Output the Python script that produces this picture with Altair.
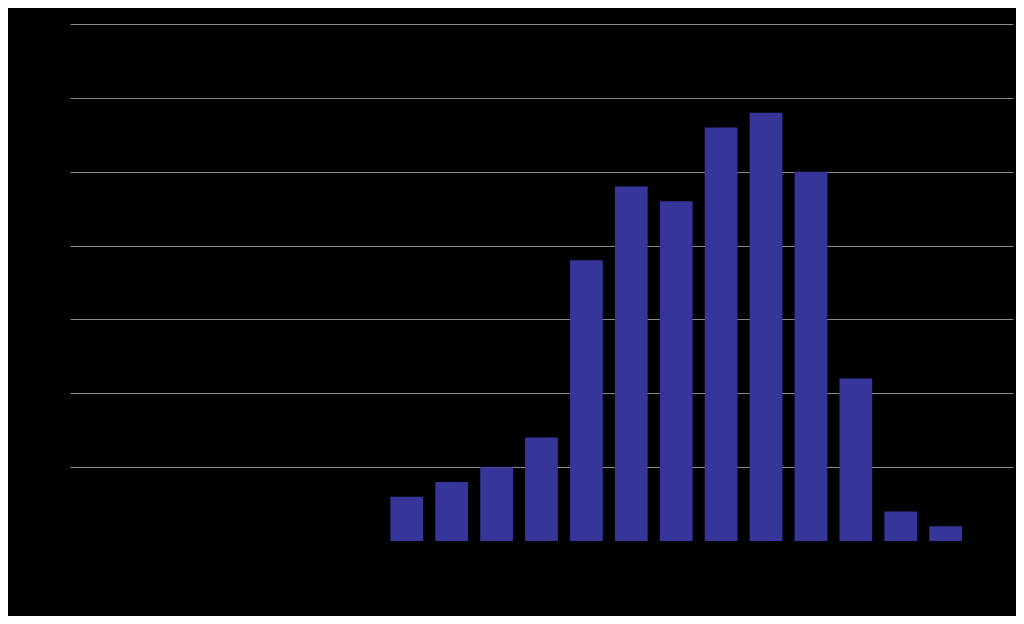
import altair as alt
import pandas as pd

categories = [str(i) for i in range(1, 22)]
values = [0, 0, 0, 0, 0, 0, 0, 1.2, 1.6, 2.0, 2.8, 7.6, 9.6, 9.2, 11.2, 11.6, 10.0, 4.4, 0.8, 0.4, 0]
y_ticks = [2, 4, 6, 8, 10, 12, 14]

df = pd.DataFrame({"cat": categories, "val": values})

chart = alt.Chart(df).mark_bar(color="#35359a").encode(
    x=alt.X("cat:N", sort=categories, title=None,
            scale=alt.Scale(paddingInner=0.27, paddingOuter=0.135),
            axis=alt.Axis(labelColor="black", domain=False, ticks=False, labelAngle=0)),
    y=alt.Y("val:Q", title=None, scale=alt.Scale(domain=[0, 14]),
            axis=alt.Axis(values=y_ticks, labelColor="black",
                          domain=False, ticks=False, gridColor="#8a8a8a", gridWidth=1)),
).properties(
    width=943, height=517,
    background="black",
    padding={"left": 62, "top": 16, "right": 3, "bottom": 75},
    autosize=alt.AutoSizeParams(type="none"),
).configure_view(stroke=None)

chart.save("out.html", embed_options={"renderer": "svg", "actions": False})
